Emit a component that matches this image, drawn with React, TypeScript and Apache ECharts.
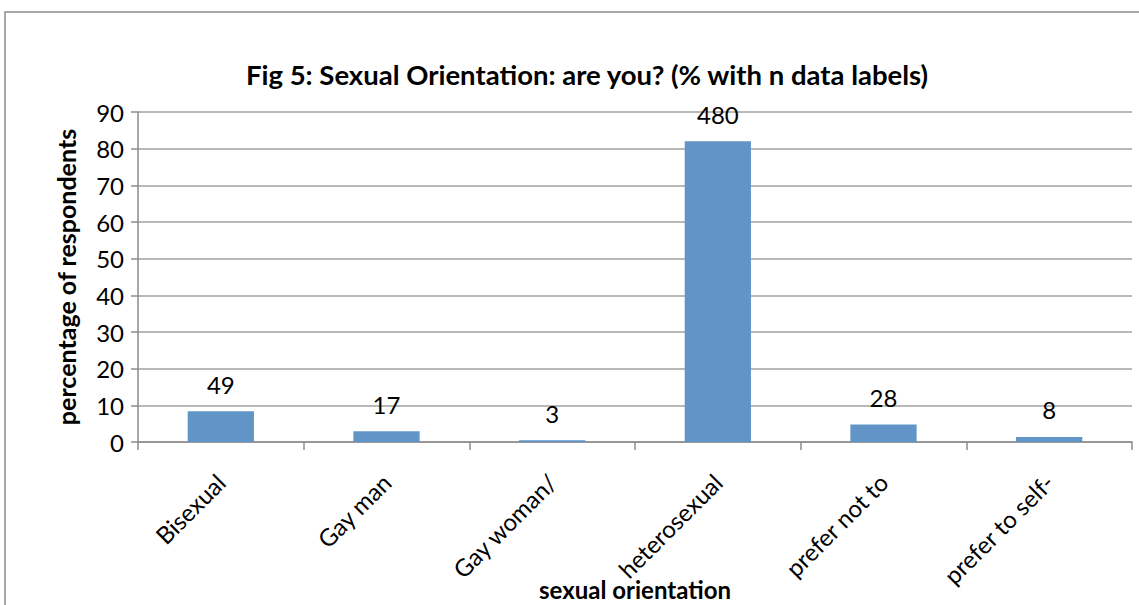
import React, { useEffect, useRef } from "react";
import * as echarts from "echarts";

const categories = ["Bisexual", "Gay man", "Gay woman/", "heterosexual", "prefer not to", "prefer to self-"];
const counts = [49, 17, 3, 480, 28, 8];
const percents = [8.38, 2.91, 0.51, 82.05, 4.79, 1.37];
const yTicks = { min: 0, max: 90, interval: 10 };

const FONT = "Lato, 'Open Sans', sans-serif";

export default function App() {
  const ref = useRef<HTMLDivElement>(null);
  useEffect(() => {
    if (!ref.current) return;
    const chart = echarts.init(ref.current, null, { renderer: "svg" });
    chart.setOption({
      animation: false,
      backgroundColor: "#ffffff",
      textStyle: { fontFamily: FONT },
      title: {
        text: "Fig 5: Sexual Orientation: are you? (% with n data labels)",
        left: 582,
        top: 55,
        textAlign: "center",
        textStyle: { fontFamily: FONT, fontSize: 27.5, fontWeight: "bold", color: "#000" },
      },
      graphic: [
        {
          type: "rect",
          shape: { x: 5, y: 12, width: 1300, height: 800 },
          style: { fill: "none", stroke: "#8c8c8c", lineWidth: 1.5 },
          silent: true,
        },
      ],
      grid: { left: 138, right: 7, top: 112, bottom: 163, outerBoundsMode: "none", containLabel: false },
      xAxis: {
        type: "category",
        data: categories,
        name: "sexual orientation",
        nameLocation: "middle",
        nameGap: 135,
        nameMoveOverlap: false,
        nameTextStyle: { fontFamily: FONT, fontSize: 24, fontWeight: "bold", color: "#000" },
        axisLine: { lineStyle: { color: "#8c8c8c", width: 1.5 } },
        axisTick: { show: true, length: 8, lineStyle: { color: "#8c8c8c", width: 1.5 } },
        axisLabel: { rotate: 45, interval: 0, fontSize: 24, color: "#000", margin: 36, fontFamily: FONT },
      },
      yAxis: {
        type: "value",
        min: yTicks.min,
        max: yTicks.max,
        interval: yTicks.interval,
        name: "percentage of respondents",
        nameLocation: "middle",
        nameGap: 60,
        nameMoveOverlap: false,
        nameTextStyle: { fontFamily: FONT, fontSize: 25, fontWeight: "bold", color: "#000" },
        axisLine: { show: true, lineStyle: { color: "#8c8c8c", width: 1.5 } },
        axisTick: { show: true, length: 7, lineStyle: { color: "#8c8c8c", width: 1.5 } },
        axisLabel: { fontSize: 24, color: "#000", margin: 14, fontFamily: FONT },
        splitLine: { lineStyle: { color: "#a0a0a0", width: 1.5 } },
      },
      series: [
        {
          type: "bar",
          data: percents,
          barWidth: "40%",
          itemStyle: { color: "#6195c8" },
          label: {
            show: true,
            position: "top",
            distance: 15,
            fontSize: 24,
            color: "#000",
            fontFamily: FONT,
            formatter: (p: any) => String(counts[p.dataIndex]),
          },
        },
      ],
    });
    return () => chart.dispose();
  }, []);
  return (
    <div
      ref={ref}
      style={{ position: "fixed", left: 0, top: 0, width: 1139, height: 605, background: "#fff" }}
    />
  );
}
